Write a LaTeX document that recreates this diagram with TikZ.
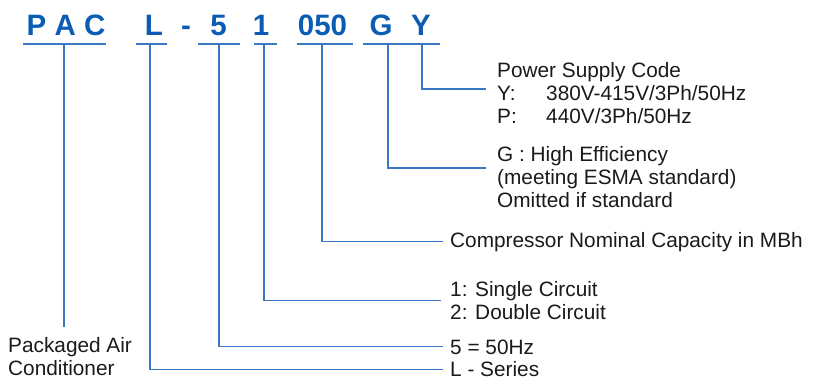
\documentclass[tikz,border=0pt]{standalone}
\usepackage{fontspec}
\setmainfont{Liberation Sans}
\usetikzlibrary{positioning}
\definecolor{CodeBlue}{HTML}{0B5DB4}
\definecolor{LeadBlue}{HTML}{3A78C6}
\definecolor{DescInk}{HTML}{1A1A1A}

\begin{document}
\begin{tikzpicture}[x=1pt,y=-1pt]
  \tikzstyle{code}=[inner sep=0pt,anchor=base,text=CodeBlue,
    font=\fontsize{29.5}{32}\selectfont\bfseries]
  \tikzstyle{desc}=[inner sep=0pt,anchor=base west,align=left,text=DescInk,
    font=\fontsize{20.8}{23}\selectfont]
  \tikzstyle{lead}=[draw=LeadBlue,line width=1.1pt]
  \useasboundingbox (0,0) rectangle (814,380);
  % model code
  \node[code] (pac) at (66,35) {P A C};
  \node[code] (ser) at (154,35) {L};
  \node[code] (dash) at (186,35) {-};
  \node[code] (hz) at (218.5,35) {5};
  \node[code] (cir) at (261,35) {1};
  \node[code] (mbh) at (322.5,35) {050};
  \node[code] (eff) at (381,35) {G};
  \node[code] (pwr) at (421,35) {Y};
  % underlines
  \draw[lead] (23,44) -- (106,44);
  \draw[lead] (136,44) -- (167,44);
  \draw[lead] (198,44) -- (240,44);
  \draw[lead] (254,44) -- (277,44);
  \draw[lead] (297,44) -- (353,44);
  \draw[lead] (363,44) -- (416,44);
  \draw[lead] (408,44) -- (440,44);
  \coordinate (tPAC) at (64,44);
  \coordinate (tL) at (150,44);
  \coordinate (t5) at (219,44);
  \coordinate (t1) at (264,44);
  \coordinate (t050) at (322,44);
  \coordinate (tG) at (388,44);
  \coordinate (tY) at (422,44);
  % descriptions (base = last line)
  \node[desc] (pwrtxt) at (497,123) {Power Supply Code\\
    \makebox[49pt][l]{Y:}380V-415V/3Ph/50Hz\\
    \makebox[49pt][l]{P:}440V/3Ph/50Hz};
  \node[desc] (efftxt) at (497,207) {G : High Efficiency\\
    (meeting ESMA standard)\\Omitted if standard};
  \node[desc] (mbhtxt) at (450,247) {Compressor Nominal Capacity in MBh};
  \node[desc] (cirtxt) at (450,319) {1: Single Circuit\\2: Double Circuit};
  \node[desc] (hztxt) at (450,354) {5 = 50Hz};
  \node[desc] (sertxt) at (450,376.5) {L - Series};
  \node[desc] (pactxt) at (8,375) {Packaged Air\\Conditioner};
  \coordinate (yEnd) at (486,89);
  \coordinate (gEnd) at (486,168);
  % leaders
  \draw[lead] (tPAC) -- ([yshift=10pt]tPAC |- pactxt.north);
  \draw[lead] (tL) |- ([xshift=-7pt]sertxt.west);
  \draw[lead] (t5) |- ([xshift=-7pt]hztxt.west);
  \draw[lead] (t1) |- ([xshift=-9pt]cirtxt.west);
  \draw[lead] (t050) |- ([xshift=-7pt]mbhtxt.west);
  \draw[lead] (tG) |- (gEnd);
  \draw[lead] (tY) |- (yEnd);
\end{tikzpicture}
\end{document}
